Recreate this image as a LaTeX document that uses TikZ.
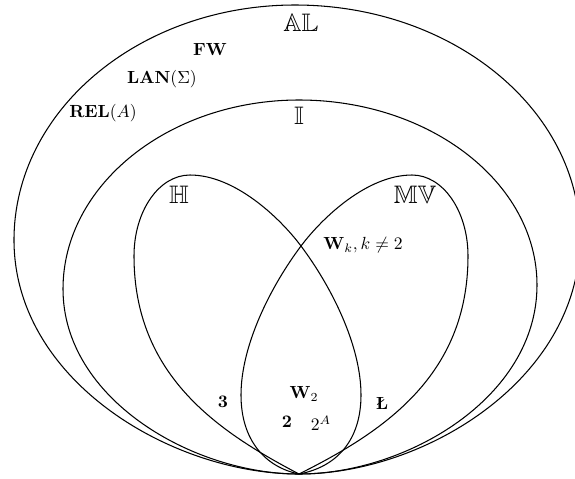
\documentclass[tikz,border=0pt]{standalone}
\usepackage{amsmath,amssymb}
\usepackage{tikz}
\tikzset{
  cls/.style ={draw=black, line width=0.6pt},
  lab/.style ={inner sep=1pt},
  bb/.style  ={font=\Large, inner sep=1pt},
}

\begin{document}
\begin{tikzpicture}[x=0.02cm,y=-0.02cm]
  \useasboundingbox (0,0) rectangle (575,478);
  % classes, all touching at the bottom point
  \coordinate (o) at (299,474);
  \draw[cls] (o) .. controls (171,474) and (14,380) .. (14,240)
                 .. controls (14,110) and (140,5) .. (295,5)
                 .. controls (452,5) and (580,109) .. (580,238)
                 .. controls (580,379) and (425,474) .. (o);
  \draw[cls] (o) .. controls (193,474) and (63,399) .. (63,289)
                 .. controls (63,185) and (169,100) .. (299,100)
                 .. controls (430,100) and (537,183) .. (537,285)
                 .. controls (537,398) and (406,474) .. (o);
  \draw[cls] (o) .. controls (219,432) and (134,376) .. (134,256)
                 .. controls (134,211) and (159,175) .. (190,175)
                 .. controls (235,175) and (280,218) .. (301,246)
                 .. controls (331,286) and (361,345) .. (361,395)
                 .. controls (361,440) and (337,467) .. (o);
  \draw[cls] (o) .. controls (383,432) and (468,376) .. (468,256)
                 .. controls (468,211) and (443,175) .. (412,175)
                 .. controls (367,175) and (322,218) .. (301,246)
                 .. controls (271,286) and (241,345) .. (241,395)
                 .. controls (241,440) and (265,467) .. (o);
  % names of the classes
  \node[bb] (al) at (301,22.5) {$\mathbb{AL}$};
  \node[bb] (ii) at (299,116) {$\mathbb{I}$};
  \node[bb] (hh) at (179,195) {$\mathbb{H}$};
  \node[bb] (mv) at (415,195) {$\mathbb{MV}$};
  % members
  \node[lab] (fw) at (210,49) {$\mathbf{FW}$};
  \node[lab] (lan) at (162,79) {$\mathbf{LAN}(\Sigma)$};
  \node[lab] (rel) at (103,113) {$\mathbf{REL}(A)$};
  \node[lab] (wk) at (363,245) {$\mathbf{W}_k, k \neq 2$};
  \node[lab] (three) at (223,402) {$\mathbf{3}$};
  \node[lab] (w2) at (304,394) {$\mathbf{W}_2$};
  \node[lab] (luk) at (382,403) {\textbf{\L}};
  \node[lab] (two) at (287,422) {$\mathbf{2}$};
  \node[lab] (powa) at (321,423) {$2^A$};
\end{tikzpicture}
\end{document}
